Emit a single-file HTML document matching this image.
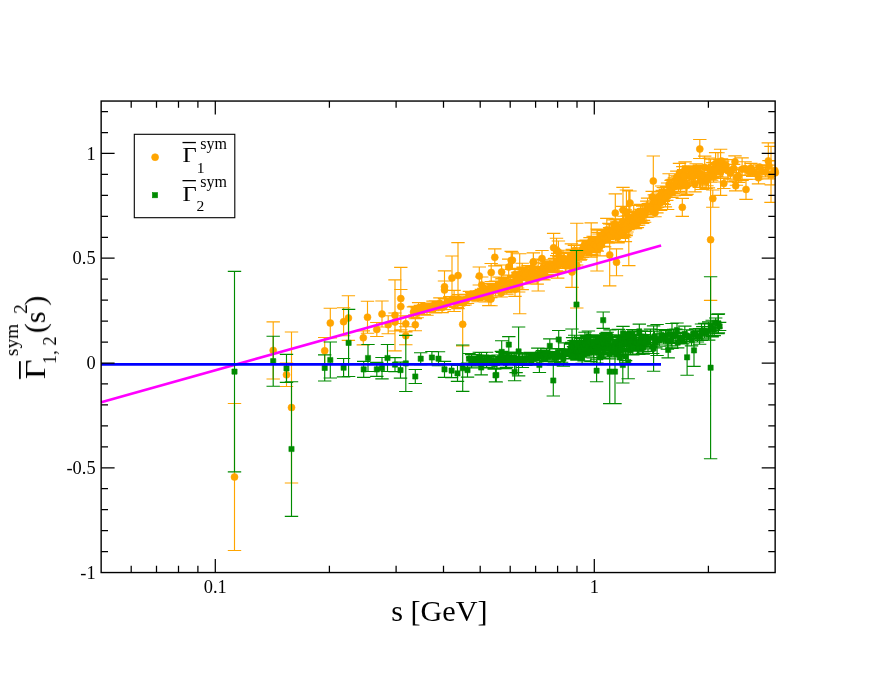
<!DOCTYPE html>
<html><head><meta charset="utf-8"><title>plot</title>
<style>
html,body{margin:0;padding:0;background:#fff;}
body{width:872px;height:674px;overflow:hidden;}
svg{display:block;}
text{font-family:"Liberation Serif",serif;fill:#000;}
#txt{opacity:0.999;}
</style></head><body>
<svg width="872" height="674" viewBox="0 0 872 674">
<rect width="872" height="674" fill="#fff"/>
<defs><clipPath id="cp"><rect x="101.15" y="101.05" width="674" height="471.5"/></clipPath></defs>
<!-- series 1 (orange) -->
<g stroke="#ffa500" fill="none" stroke-width="1.15" clip-path="url(#cp)"><path d="M234.5 403.5V550.5M227.8 403.5h13.4M227.8 550.5h13.4M273.2 321.8V379M266.5 321.8h13.4M266.5 379h13.4M286.5 363.1V386.5M279.8 363.1h13.4M279.8 386.5h13.4M291.5 332V483M284.8 332h13.4M284.8 483h13.4M324.7 337.5V364.1M318 337.5h13.4M318 364.1h13.4M330.3 308.2V337.8M323.6 308.2h13.4M323.6 337.8h13.4M343.6 307.7V335.7M336.9 307.7h13.4M336.9 335.7h13.4M348.4 295.7V340.3M341.7 295.7h13.4M341.7 340.3h13.4M363.3 330.8V344.8M356.6 330.8h13.4M356.6 344.8h13.4M367.5 301.2V333.2M360.8 301.2h13.4M360.8 333.2h13.4M376.8 322.5V336.5M370.1 322.5h13.4M370.1 336.5h13.4M382 301V327M375.3 301h13.4M375.3 327h13.4M388.2 315.7V333.7M381.5 315.7h13.4M381.5 333.7h13.4M395 279.8V350.8M388.3 279.8h13.4M388.3 350.8h13.4M395 313V331M388.3 313h13.4M388.3 331h13.4M400.8 267.3V329.9M394.1 267.3h13.4M394.1 329.9h13.4M400.8 289.5V323.5M394.1 289.5h13.4M394.1 323.5h13.4M405.8 315.8V331.8M399.1 315.8h13.4M399.1 331.8h13.4M405.8 326.7V344.7M399.1 326.7h13.4M399.1 344.7h13.4M415.3 318.7V330.7M408.6 318.7h13.4M408.6 330.7h13.4M444.5 270.8V302.8M437.8 270.8h13.4M437.8 302.8h13.4M444.5 281V299M437.8 281h13.4M437.8 299h13.4M452 256V300M445.3 256h13.4M445.3 300h13.4M458 242.6V308.6M451.3 242.6h13.4M451.3 308.6h13.4M462.7 302.8V345.8M456 302.8h13.4M456 345.8h13.4M479.3 267V285M472.6 267h13.4M472.6 285h13.4M481.7 277V293M475 277h13.4M475 293h13.4M488.8 291.6V305.6M482.1 291.6h13.4M482.1 305.6h13.4M491.2 263.5V281.5M484.5 263.5h13.4M484.5 281.5h13.4M494.8 248.8V265.8M488.1 248.8h13.4M488.1 265.8h13.4M519.7 253.7V313.7M513 253.7h13.4M513 313.7h13.4M576.8 223.2V308M570.1 223.2h13.4M570.1 308h13.4M597 229V271M590.3 229h13.4M590.3 271h13.4M609.7 223.9V285.9M603 223.9h13.4M603 285.9h13.4M616.5 248.9V275.7M609.8 248.9h13.4M609.8 275.7h13.4M630 191V215M623.3 191h13.4M623.3 215h13.4M501.6 265V279M494.9 265h13.4M494.9 279h13.4M508.7 259.1V275.1M502 259.1h13.4M502 275.1h13.4M511.2 251.4V269.4M504.5 251.4h13.4M504.5 269.4h13.4M491 292.3V305.7M484.3 292.3h13.4M484.3 305.7h13.4M515 282.3V296.3M508.3 282.3h13.4M508.3 296.3h13.4M533.4 252.7V271.9M526.7 252.7h13.4M526.7 271.9h13.4M542 250.5V266.5M535.3 250.5h13.4M535.3 266.5h13.4M553.6 233.4V262.2M546.9 233.4h13.4M546.9 262.2h13.4M556.5 238.2V261.8M549.8 238.2h13.4M549.8 261.8h13.4M558.4 241V263M551.7 241h13.4M551.7 263h13.4M538.2 259V291M531.5 259h13.4M531.5 291h13.4M572 256.6V287.4M565.3 256.6h13.4M565.3 287.4h13.4M591.2 222.8V257.2M584.5 222.8h13.4M584.5 257.2h13.4M615.3 193.9V232.3M608.6 193.9h13.4M608.6 232.3h13.4M623 187.4V232.6M616.3 187.4h13.4M616.3 232.6h13.4M626.4 190V234M619.7 190h13.4M619.7 234h13.4M628.8 191V265.6M622.1 191h13.4M622.1 265.6h13.4M655 208.7V216.7M648.3 208.7h13.4M648.3 216.7h13.4M533.3 253V271M526.6 253h13.4M526.6 271h13.4M512.4 252.2V268.2M505.7 252.2h13.4M505.7 268.2h13.4M653.3 156V206M646.6 156h13.4M646.6 206h13.4M682.3 198.3V216.3M675.6 198.3h13.4M675.6 216.3h13.4M699.8 139.5V158.5M693.1 139.5h13.4M693.1 158.5h13.4M710.6 179V300.4M703.9 179h13.4M703.9 300.4h13.4M712.8 190V207.2M706.1 190h13.4M706.1 207.2h13.4M723.8 178.5V188.5M717.1 178.5h13.4M717.1 188.5h13.4M735.7 180.8V190.8M729 180.8h13.4M729 190.8h13.4M746 179.4V199.4M739.3 179.4h13.4M739.3 199.4h13.4M735 155.8V167.8M728.3 155.8h13.4M728.3 167.8h13.4M768.3 142.9V178.9M761.6 142.9h13.4M761.6 178.9h13.4M771 146.3V202.3M764.3 146.3h13.4M764.3 202.3h13.4M775.3 160.8V184.8M768.6 160.8h13.4M768.6 184.8h13.4M758.5 171.8V183.8M751.8 171.8h13.4M751.8 183.8h13.4M413.5 306.8V317.1M406.8 306.8h13.4M406.8 317.1h13.4M414.9 306.2V314.7M408.2 306.2h13.4M408.2 314.7h13.4M417.2 308.1V317.7M410.5 308.1h13.4M410.5 317.7h13.4M418.6 302.6V313.7M411.9 302.6h13.4M411.9 313.7h13.4M420.4 305.2V310M413.7 305.2h13.4M413.7 310h13.4M422.4 305.7V314.6M415.7 305.7h13.4M415.7 314.6h13.4M424.2 304.6V314.6M417.5 304.6h13.4M417.5 314.6h13.4M427 303.3V315.2M420.3 303.3h13.4M420.3 315.2h13.4M428.9 303.1V311.8M422.2 303.1h13.4M422.2 311.8h13.4M430.6 303.6V310.3M423.9 303.6h13.4M423.9 310.3h13.4M433 301.1V310.7M426.3 301.1h13.4M426.3 310.7h13.4M435.5 300.7V312.8M428.8 300.7h13.4M428.8 312.8h13.4M438.4 302.4V309.4M431.7 302.4h13.4M431.7 309.4h13.4M439.9 297.9V308.9M433.2 297.9h13.4M433.2 308.9h13.4M442.1 302.7V312.6M435.4 302.7h13.4M435.4 312.6h13.4M444.4 302.1V309.6M437.7 302.1h13.4M437.7 309.6h13.4M446.8 299V306.7M440.1 299h13.4M440.1 306.7h13.4M449.8 296.6V306.2M443.1 296.6h13.4M443.1 306.2h13.4M452.3 298V302.4M445.6 298h13.4M445.6 302.4h13.4M454.1 290.3V311.5M447.4 290.3h13.4M447.4 311.5h13.4M455.8 297.9V307.4M449.1 297.9h13.4M449.1 307.4h13.4M457.3 296.1V307.5M450.6 296.1h13.4M450.6 307.5h13.4M458.8 294.5V304.4M452.1 294.5h13.4M452.1 304.4h13.4M461.5 297.6V305.2M454.8 297.6h13.4M454.8 305.2h13.4M463.5 300.5V305.5M456.8 300.5h13.4M456.8 305.5h13.4M465.1 294.3V305M458.4 294.3h13.4M458.4 305h13.4M467.5 294.2V303.5M460.8 294.2h13.4M460.8 303.5h13.4M469.4 291.4V298M462.7 291.4h13.4M462.7 298h13.4M471.7 292.6V299.2M465 292.6h13.4M465 299.2h13.4M474.6 295.2V299.6M467.9 295.2h13.4M467.9 299.6h13.4M476.6 290.8V300.5M469.9 290.8h13.4M469.9 300.5h13.4M478 292V301.7M471.3 292h13.4M471.3 301.7h13.4M479.9 290.5V299.5M473.2 290.5h13.4M473.2 299.5h13.4M481.4 289.3V298.7M474.7 289.3h13.4M474.7 298.7h13.4M483.8 288.3V299.9M477.1 288.3h13.4M477.1 299.9h13.4M485.2 288.5V302M478.5 288.5h13.4M478.5 302h13.4M486.8 285.9V296M480.1 285.9h13.4M480.1 296h13.4M488.2 283.4V298.2M481.5 283.4h13.4M481.5 298.2h13.4M489.2 288.5V297.5M482.5 288.5h13.4M482.5 297.5h13.4M490.8 287.1V297.6M484.1 287.1h13.4M484.1 297.6h13.4M492.9 284.4V292.5M486.2 284.4h13.4M486.2 292.5h13.4M494.1 285.3V292.2M487.4 285.3h13.4M487.4 292.2h13.4M495.5 281.1V295.7M488.8 281.1h13.4M488.8 295.7h13.4M497.5 285.4V290.9M490.8 285.4h13.4M490.8 290.9h13.4M498.8 277V291.8M492.1 277h13.4M492.1 291.8h13.4M500.1 277.2V293.7M493.4 277.2h13.4M493.4 293.7h13.4M501.2 289.1V297M494.5 289.1h13.4M494.5 297h13.4M502.3 278.5V292.3M495.6 278.5h13.4M495.6 292.3h13.4M503.2 277.1V283.9M496.5 277.1h13.4M496.5 283.9h13.4M504.4 278.1V285M497.7 278.1h13.4M497.7 285h13.4M505.8 283.8V292.4M499.1 283.8h13.4M499.1 292.4h13.4M506.9 277.5V294.1M500.2 277.5h13.4M500.2 294.1h13.4M508.4 280.5V291.5M501.7 280.5h13.4M501.7 291.5h13.4M510.1 277.6V287.3M503.4 277.6h13.4M503.4 287.3h13.4M510.9 282.5V290.8M504.2 282.5h13.4M504.2 290.8h13.4M512.4 280.5V291.5M505.7 280.5h13.4M505.7 291.5h13.4M513.7 275.8V287.8M507 275.8h13.4M507 287.8h13.4M515 269.3V279.7M508.3 269.3h13.4M508.3 279.7h13.4M516.6 276.4V286M509.9 276.4h13.4M509.9 286h13.4M517.6 272.2V288M510.9 272.2h13.4M510.9 288h13.4M518.7 275.3V292M512 275.3h13.4M512 292h13.4M519.9 269.7V277.8M513.2 269.7h13.4M513.2 277.8h13.4M521.5 269.1V280.7M514.8 269.1h13.4M514.8 280.7h13.4M522.2 263.2V289.6M515.5 263.2h13.4M515.5 289.6h13.4M523.1 267.1V279.5M516.4 267.1h13.4M516.4 279.5h13.4M524.1 268.2V279.3M517.4 268.2h13.4M517.4 279.3h13.4M524.9 269.7V280.4M518.2 269.7h13.4M518.2 280.4h13.4M526.4 267.1V278.5M519.7 267.1h13.4M519.7 278.5h13.4M528 265.6V278.7M521.3 265.6h13.4M521.3 278.7h13.4M529.2 270.1V278.4M522.5 270.1h13.4M522.5 278.4h13.4M530.4 274V283.8M523.7 274h13.4M523.7 283.8h13.4M532 266.1V281.8M525.3 266.1h13.4M525.3 281.8h13.4M533.5 268.1V280.9M526.8 268.1h13.4M526.8 280.9h13.4M534.3 266.9V279.7M527.6 266.9h13.4M527.6 279.7h13.4M535.8 268.7V279.2M529.1 268.7h13.4M529.1 279.2h13.4M537.2 267.3V284.1M530.5 267.3h13.4M530.5 284.1h13.4M538.1 269.1V279.7M531.4 269.1h13.4M531.4 279.7h13.4M539.8 266.9V276.8M533.1 266.9h13.4M533.1 276.8h13.4M541 262.9V276.2M534.3 262.9h13.4M534.3 276.2h13.4M542.4 267.4V279.5M535.7 267.4h13.4M535.7 279.5h13.4M543.1 260V275.5M536.4 260h13.4M536.4 275.5h13.4M543.9 268.7V279.8M537.2 268.7h13.4M537.2 279.8h13.4M544.7 262.7V275.2M538 262.7h13.4M538 275.2h13.4M545.7 263.6V277.7M539 263.6h13.4M539 277.7h13.4M547.2 261.2V274.6M540.5 261.2h13.4M540.5 274.6h13.4M548.5 262V272.2M541.8 262h13.4M541.8 272.2h13.4M549.9 259.8V272M543.2 259.8h13.4M543.2 272h13.4M551.2 261.5V271.9M544.5 261.5h13.4M544.5 271.9h13.4M552 263.6V272.5M545.3 263.6h13.4M545.3 272.5h13.4M553.2 262.2V272.7M546.5 262.2h13.4M546.5 272.7h13.4M554.5 258.5V271.6M547.8 258.5h13.4M547.8 271.6h13.4M555.2 258.3V272.5M548.5 258.3h13.4M548.5 272.5h13.4M556.7 255.6V270.9M550 255.6h13.4M550 270.9h13.4M557.7 253.3V278.1M551 253.3h13.4M551 278.1h13.4M559 256.8V271.8M552.3 256.8h13.4M552.3 271.8h13.4M559.8 259.7V268.3M553.1 259.7h13.4M553.1 268.3h13.4M561.3 252.5V266.5M554.6 252.5h13.4M554.6 266.5h13.4M563 250.2V266.8M556.3 250.2h13.4M556.3 266.8h13.4M564.3 252.1V265.4M557.6 252.1h13.4M557.6 265.4h13.4M565.2 257.7V271.6M558.5 257.7h13.4M558.5 271.6h13.4M566 257.4V272.1M559.3 257.4h13.4M559.3 272.1h13.4M567.4 252.2V266.1M560.7 252.2h13.4M560.7 266.1h13.4M568.6 253.5V268M561.9 253.5h13.4M561.9 268h13.4M570.2 257V267.3M563.5 257h13.4M563.5 267.3h13.4M571.4 243.9V268.8M564.7 243.9h13.4M564.7 268.8h13.4M572.3 249.3V260.3M565.6 249.3h13.4M565.6 260.3h13.4M572.9 250.3V262.7M566.2 250.3h13.4M566.2 262.7h13.4M573.4 253.3V264.7M566.7 253.3h13.4M566.7 264.7h13.4M574.4 245.4V255.5M567.7 245.4h13.4M567.7 255.5h13.4M575.4 253V261.8M568.7 253h13.4M568.7 261.8h13.4M576.7 249.8V265M570 249.8h13.4M570 265h13.4M577.3 254.9V260.1M570.6 254.9h13.4M570.6 260.1h13.4M578.3 249.4V258.7M571.6 249.4h13.4M571.6 258.7h13.4M579.2 252.8V258.8M572.5 252.8h13.4M572.5 258.8h13.4M580.2 252.1V260.1M573.5 252.1h13.4M573.5 260.1h13.4M580.9 247.9V259.2M574.2 247.9h13.4M574.2 259.2h13.4M581.5 249.9V257.3M574.8 249.9h13.4M574.8 257.3h13.4M582.5 241.2V257.5M575.8 241.2h13.4M575.8 257.5h13.4M583.6 240.9V251.8M576.9 240.9h13.4M576.9 251.8h13.4M584.2 245.4V254M577.5 245.4h13.4M577.5 254h13.4M584.9 244.8V253.6M578.2 244.8h13.4M578.2 253.6h13.4M586.1 240.1V251.2M579.4 240.1h13.4M579.4 251.2h13.4M587.2 245.3V251.9M580.5 245.3h13.4M580.5 251.9h13.4M587.8 242.8V255.8M581.1 242.8h13.4M581.1 255.8h13.4M588.5 241.5V252.3M581.8 241.5h13.4M581.8 252.3h13.4M589.3 241.3V248M582.6 241.3h13.4M582.6 248h13.4M590 237.6V248.2M583.3 237.6h13.4M583.3 248.2h13.4M590.6 243V252.6M583.9 243h13.4M583.9 252.6h13.4M591.9 243.2V254.6M585.2 243.2h13.4M585.2 254.6h13.4M593.1 236.2V247.9M586.4 236.2h13.4M586.4 247.9h13.4M594.3 237V252.1M587.6 237h13.4M587.6 252.1h13.4M595.2 239.2V249.7M588.5 239.2h13.4M588.5 249.7h13.4M596.1 242.1V249.8M589.4 242.1h13.4M589.4 249.8h13.4M597.3 230.1V251.1M590.6 230.1h13.4M590.6 251.1h13.4M598.2 232.4V247.5M591.5 232.4h13.4M591.5 247.5h13.4M598.9 234V246.8M592.2 234h13.4M592.2 246.8h13.4M600 236.7V255.9M593.3 236.7h13.4M593.3 255.9h13.4M601.1 229.7V246.5M594.4 229.7h13.4M594.4 246.5h13.4M602.3 229.7V240.7M595.6 229.7h13.4M595.6 240.7h13.4M603 233V246.6M596.3 233h13.4M596.3 246.6h13.4M603.7 234.5V246.4M597 234.5h13.4M597 246.4h13.4M604.6 230.3V246.9M597.9 230.3h13.4M597.9 246.9h13.4M605.7 234.9V242.6M599 234.9h13.4M599 242.6h13.4M606.8 218.4V241.5M600.1 218.4h13.4M600.1 241.5h13.4M607.6 232V239.3M600.9 232h13.4M600.9 239.3h13.4M608.2 231.1V243.2M601.5 231.1h13.4M601.5 243.2h13.4M608.9 223.3V242.6M602.2 223.3h13.4M602.2 242.6h13.4M609.6 227.5V237.7M602.9 227.5h13.4M602.9 237.7h13.4M610.4 227.7V242.8M603.7 227.7h13.4M603.7 242.8h13.4M611.5 224.2V237.2M604.8 224.2h13.4M604.8 237.2h13.4M612.7 223.9V237.6M606 223.9h13.4M606 237.6h13.4M613.3 224.4V238.8M606.6 224.4h13.4M606.6 238.8h13.4M614 219.8V229.3M607.3 219.8h13.4M607.3 229.3h13.4M614.8 219.7V235.2M608.1 219.7h13.4M608.1 235.2h13.4M615.5 227V241.2M608.8 227h13.4M608.8 241.2h13.4M616.1 218.7V231.6M609.4 218.7h13.4M609.4 231.6h13.4M616.8 221.9V237.9M610.1 221.9h13.4M610.1 237.9h13.4M617.6 231.9V242.6M610.9 231.9h13.4M610.9 242.6h13.4M618.1 228.5V242.8M611.4 228.5h13.4M611.4 242.8h13.4M618.9 222.4V235.3M612.2 222.4h13.4M612.2 235.3h13.4M620.1 228.8V234.8M613.4 228.8h13.4M613.4 234.8h13.4M620.7 222.3V236.8M614 222.3h13.4M614 236.8h13.4M621.7 227.7V238.4M615 227.7h13.4M615 238.4h13.4M622.7 206.3V236.8M616 206.3h13.4M616 236.8h13.4M623.4 226V236.2M616.7 226h13.4M616.7 236.2h13.4M624 216.2V234.9M617.3 216.2h13.4M617.3 234.9h13.4M624.6 222.1V237.2M617.9 222.1h13.4M617.9 237.2h13.4M625.4 209.7V241.6M618.7 209.7h13.4M618.7 241.6h13.4M626.2 224V235.6M619.5 224h13.4M619.5 235.6h13.4M627 216V232M620.3 216h13.4M620.3 232h13.4M628 215.9V229.6M621.3 215.9h13.4M621.3 229.6h13.4M629 212.5V227M622.3 212.5h13.4M622.3 227h13.4M630.1 214.8V228.8M623.4 214.8h13.4M623.4 228.8h13.4M630.9 214.8V225.4M624.2 214.8h13.4M624.2 225.4h13.4M631.9 211.3V224.2M625.2 211.3h13.4M625.2 224.2h13.4M632.7 216.1V226.5M626 216.1h13.4M626 226.5h13.4M633.7 205.4V227.9M627 205.4h13.4M627 227.9h13.4M634.3 211.1V228.2M627.6 211.1h13.4M627.6 228.2h13.4M635.5 212.5V228.7M628.8 212.5h13.4M628.8 228.7h13.4M636.6 211.3V225.3M629.9 211.3h13.4M629.9 225.3h13.4M637.4 219.6V227.6M630.7 219.6h13.4M630.7 227.6h13.4M638.6 213.6V225.1M631.9 213.6h13.4M631.9 225.1h13.4M639.8 209.2V221.2M633.1 209.2h13.4M633.1 221.2h13.4M640.5 204.3V219.8M633.8 204.3h13.4M633.8 219.8h13.4M641 205.1V221.8M634.3 205.1h13.4M634.3 221.8h13.4M641.6 210.1V222.5M634.9 210.1h13.4M634.9 222.5h13.4M642.7 206.1V223.3M636 206.1h13.4M636 223.3h13.4M643.5 208.6V220.3M636.8 208.6h13.4M636.8 220.3h13.4M644.6 208.4V222.2M637.9 208.4h13.4M637.9 222.2h13.4M645.6 205.7V216.9M638.9 205.7h13.4M638.9 216.9h13.4M646.8 201.1V217.4M640.1 201.1h13.4M640.1 217.4h13.4M647.6 198.1V217.1M640.9 198.1h13.4M640.9 217.1h13.4M648.3 203.5V211.7M641.6 203.5h13.4M641.6 211.7h13.4M648.9 205.8V210.2M642.2 205.8h13.4M642.2 210.2h13.4M650.1 203.4V214.8M643.4 203.4h13.4M643.4 214.8h13.4M651.3 203.8V213.9M644.6 203.8h13.4M644.6 213.9h13.4M652.2 191.4V202.7M645.5 191.4h13.4M645.5 202.7h13.4M653.3 200.9V205.9M646.6 200.9h13.4M646.6 205.9h13.4M654.3 194.9V208.4M647.6 194.9h13.4M647.6 208.4h13.4M655.4 198V210M648.7 198h13.4M648.7 210h13.4M656.1 196.6V207.9M649.4 196.6h13.4M649.4 207.9h13.4M656.9 202.8V212.9M650.2 202.8h13.4M650.2 212.9h13.4M657.6 195.8V207.5M650.9 195.8h13.4M650.9 207.5h13.4M658.6 191.3V203.1M651.9 191.3h13.4M651.9 203.1h13.4M659.6 193V199.3M652.9 193h13.4M652.9 199.3h13.4M660.6 195.1V210.3M653.9 195.1h13.4M653.9 210.3h13.4M661.6 186V200.8M654.9 186h13.4M654.9 200.8h13.4M662.3 190.4V203.2M655.6 190.4h13.4M655.6 203.2h13.4M663.3 187.5V201.4M656.6 187.5h13.4M656.6 201.4h13.4M664.2 187.7V204.4M657.5 187.7h13.4M657.5 204.4h13.4M665.4 189.4V206.8M658.7 189.4h13.4M658.7 206.8h13.4M666.8 187.1V200.4M660.1 187.1h13.4M660.1 200.4h13.4M667.6 183V209.5M660.9 183h13.4M660.9 209.5h13.4M669.1 173.7V194.9M662.4 173.7h13.4M662.4 194.9h13.4M670 189.2V193.6M663.3 189.2h13.4M663.3 193.6h13.4M671.1 180.3V191.9M664.4 180.3h13.4M664.4 191.9h13.4M671.9 179.7V197.4M665.2 179.7h13.4M665.2 197.4h13.4M673.2 179.2V194M666.5 179.2h13.4M666.5 194h13.4M674.4 177.8V195.7M667.7 177.8h13.4M667.7 195.7h13.4M675.8 175.7V189.2M669.1 175.7h13.4M669.1 189.2h13.4M676.8 171.1V182.9M670.1 171.1h13.4M670.1 182.9h13.4M677.6 176.2V185.3M670.9 176.2h13.4M670.9 185.3h13.4M678.5 178.7V191.4M671.8 178.7h13.4M671.8 191.4h13.4M679.5 163.4V182.4M672.8 163.4h13.4M672.8 182.4h13.4M680.5 171.2V192.9M673.8 171.2h13.4M673.8 192.9h13.4M681.1 177.6V188.6M674.4 177.6h13.4M674.4 188.6h13.4M682.2 177.3V187.5M675.5 177.3h13.4M675.5 187.5h13.4M682.8 166.6V178.3M676.1 166.6h13.4M676.1 178.3h13.4M683.6 169.6V180.3M676.9 169.6h13.4M676.9 180.3h13.4M684.4 166.5V186.4M677.7 166.5h13.4M677.7 186.4h13.4M685.1 161.9V176.5M678.4 161.9h13.4M678.4 176.5h13.4M685.9 172.7V195.3M679.2 172.7h13.4M679.2 195.3h13.4M687 176.7V194.4M680.3 176.7h13.4M680.3 194.4h13.4M688.5 165.7V173.3M681.8 165.7h13.4M681.8 173.3h13.4M689.8 166.8V185.8M683.1 166.8h13.4M683.1 185.8h13.4M691.2 168.2V185.4M684.5 168.2h13.4M684.5 185.4h13.4M692.3 166V181.7M685.6 166h13.4M685.6 181.7h13.4M693.6 170V183.1M686.9 170h13.4M686.9 183.1h13.4M695 175.5V191.8M688.3 175.5h13.4M688.3 191.8h13.4M696.2 163.7V175.5M689.5 163.7h13.4M689.5 175.5h13.4M697.2 165.8V177.2M690.5 165.8h13.4M690.5 177.2h13.4M698.2 167.4V181.8M691.5 167.4h13.4M691.5 181.8h13.4M699.3 165V187.4M692.6 165h13.4M692.6 187.4h13.4M700.4 168.1V187.2M693.7 168.1h13.4M693.7 187.2h13.4M701.2 166.3V181.2M694.5 166.3h13.4M694.5 181.2h13.4M702.3 173.7V189.5M695.6 173.7h13.4M695.6 189.5h13.4M703.6 172.4V180.5M696.9 172.4h13.4M696.9 180.5h13.4M704.7 156.1V178.6M698 156.1h13.4M698 178.6h13.4M706.1 174.6V188.4M699.4 174.6h13.4M699.4 188.4h13.4M706.9 172.3V185.7M700.2 172.3h13.4M700.2 185.7h13.4M708.4 166.3V187.9M701.7 166.3h13.4M701.7 187.9h13.4M709.1 158V178.8M702.4 158h13.4M702.4 178.8h13.4M710.6 159.2V182.2M703.9 159.2h13.4M703.9 182.2h13.4M711.7 167.8V180.2M705 167.8h13.4M705 180.2h13.4M712.8 162.6V177.9M706.1 162.6h13.4M706.1 177.9h13.4M713.6 170.9V182M706.9 170.9h13.4M706.9 182h13.4M714.4 164.6V176.2M707.7 164.6h13.4M707.7 176.2h13.4M715.6 152.6V174.5M708.9 152.6h13.4M708.9 174.5h13.4M716.8 163.9V176.4M710.1 163.9h13.4M710.1 176.4h13.4M718 152.7V172.2M711.3 152.7h13.4M711.3 172.2h13.4M719.5 159.3V171.1M712.8 159.3h13.4M712.8 171.1h13.4M720.6 149.2V195.3M713.9 149.2h13.4M713.9 195.3h13.4M721.5 158.8V163.2M714.8 158.8h13.4M714.8 163.2h13.4M722.7 161.2V177.1M716 161.2h13.4M716 177.1h13.4M725.9 159.6V171M719.2 159.6h13.4M719.2 171h13.4M727.9 159.7V181.9M721.2 159.7h13.4M721.2 181.9h13.4M730.5 167.4V179.1M723.8 167.4h13.4M723.8 179.1h13.4M733.6 164.3V172.6M726.9 164.3h13.4M726.9 172.6h13.4M736.4 169.3V185.2M729.7 169.3h13.4M729.7 185.2h13.4M738.5 169.8V182.3M731.8 169.8h13.4M731.8 182.3h13.4M742.1 157.9V180.5M735.4 157.9h13.4M735.4 180.5h13.4M745.1 161.7V175.5M738.4 161.7h13.4M738.4 175.5h13.4M749 168.1V175M742.3 168.1h13.4M742.3 175h13.4M750.9 163.4V172.3M744.2 163.4h13.4M744.2 172.3h13.4M752.7 167.4V176.5M746 167.4h13.4M746 176.5h13.4M756.6 167.7V179.2M749.9 167.7h13.4M749.9 179.2h13.4M759.6 164.9V169.3M752.9 164.9h13.4M752.9 169.3h13.4M762 166.1V176.8M755.3 166.1h13.4M755.3 176.8h13.4M765.6 167.5V176.7M758.9 167.5h13.4M758.9 176.7h13.4M769 160.6V171.5M762.3 160.6h13.4M762.3 171.5h13.4M771.3 165.1V184.9M764.6 165.1h13.4M764.6 184.9h13.4M774.8 168.2V172.6M768.1 168.2h13.4M768.1 172.6h13.4"/></g>
<g fill="#ffa500" stroke="#ffa500" stroke-width="0.6"><circle cx="234.5" cy="477" r="3.5"/><circle cx="273.2" cy="350.4" r="3.5"/><circle cx="286.5" cy="374.8" r="3.5"/><circle cx="291.5" cy="407.5" r="3.5"/><circle cx="324.7" cy="350.8" r="3.5"/><circle cx="330.3" cy="323" r="3.5"/><circle cx="343.6" cy="321.7" r="3.5"/><circle cx="348.4" cy="318" r="3.5"/><circle cx="363.3" cy="337.8" r="3.5"/><circle cx="367.5" cy="317.2" r="3.5"/><circle cx="376.8" cy="329.5" r="3.5"/><circle cx="382" cy="314" r="3.5"/><circle cx="388.2" cy="324.7" r="3.5"/><circle cx="395" cy="315.3" r="3.5"/><circle cx="395" cy="322" r="3.5"/><circle cx="400.8" cy="298.6" r="3.5"/><circle cx="400.8" cy="306.5" r="3.5"/><circle cx="405.8" cy="323.8" r="3.5"/><circle cx="405.8" cy="335.7" r="3.5"/><circle cx="415.3" cy="324.7" r="3.5"/><circle cx="444.5" cy="286.8" r="3.5"/><circle cx="444.5" cy="290" r="3.5"/><circle cx="452" cy="278" r="3.5"/><circle cx="458" cy="275.6" r="3.5"/><circle cx="462.7" cy="324.3" r="3.5"/><circle cx="479.3" cy="276" r="3.5"/><circle cx="481.7" cy="285" r="3.5"/><circle cx="488.8" cy="298.6" r="3.5"/><circle cx="491.2" cy="272.5" r="3.5"/><circle cx="494.8" cy="257.3" r="3.5"/><circle cx="519.7" cy="283.7" r="3.5"/><circle cx="576.8" cy="265.6" r="3.5"/><circle cx="597" cy="250" r="3.5"/><circle cx="609.7" cy="254.9" r="3.5"/><circle cx="616.5" cy="262.3" r="3.5"/><circle cx="630" cy="203" r="3.5"/><circle cx="501.6" cy="272" r="3.5"/><circle cx="508.7" cy="267.1" r="3.5"/><circle cx="511.2" cy="260.4" r="3.5"/><circle cx="491" cy="299" r="3.5"/><circle cx="515" cy="289.3" r="3.5"/><circle cx="533.4" cy="262.3" r="3.5"/><circle cx="542" cy="258.5" r="3.5"/><circle cx="553.6" cy="247.8" r="3.5"/><circle cx="556.5" cy="250" r="3.5"/><circle cx="558.4" cy="252" r="3.5"/><circle cx="538.2" cy="275" r="3.5"/><circle cx="572" cy="272" r="3.5"/><circle cx="591.2" cy="240" r="3.5"/><circle cx="615.3" cy="213.1" r="3.5"/><circle cx="623" cy="210" r="3.5"/><circle cx="626.4" cy="212" r="3.5"/><circle cx="628.8" cy="228.3" r="3.5"/><circle cx="655" cy="212.7" r="3.5"/><circle cx="533.3" cy="262" r="3.5"/><circle cx="512.4" cy="260.2" r="3.5"/><circle cx="653.3" cy="181" r="3.5"/><circle cx="682.3" cy="207.3" r="3.5"/><circle cx="699.8" cy="149" r="3.5"/><circle cx="710.6" cy="239.7" r="3.5"/><circle cx="712.8" cy="198.6" r="3.5"/><circle cx="723.8" cy="183.5" r="3.5"/><circle cx="735.7" cy="185.8" r="3.5"/><circle cx="746" cy="189.4" r="3.5"/><circle cx="735" cy="161.8" r="3.5"/><circle cx="768.3" cy="160.9" r="3.5"/><circle cx="771" cy="174.3" r="3.5"/><circle cx="775.3" cy="172.8" r="3.5"/><circle cx="758.5" cy="177.8" r="3.5"/><circle cx="413.5" cy="312" r="3.5"/><circle cx="414.9" cy="310.4" r="3.5"/><circle cx="417.2" cy="312.9" r="3.5"/><circle cx="418.6" cy="308.1" r="3.5"/><circle cx="420.4" cy="307.6" r="3.5"/><circle cx="422.4" cy="310.2" r="3.5"/><circle cx="424.2" cy="309.6" r="3.5"/><circle cx="427" cy="309.3" r="3.5"/><circle cx="428.9" cy="307.4" r="3.5"/><circle cx="430.6" cy="306.9" r="3.5"/><circle cx="433" cy="305.9" r="3.5"/><circle cx="435.5" cy="306.7" r="3.5"/><circle cx="438.4" cy="305.9" r="3.5"/><circle cx="439.9" cy="303.4" r="3.5"/><circle cx="442.1" cy="307.6" r="3.5"/><circle cx="444.4" cy="305.8" r="3.5"/><circle cx="446.8" cy="302.8" r="3.5"/><circle cx="449.8" cy="301.4" r="3.5"/><circle cx="452.3" cy="300.2" r="3.5"/><circle cx="454.1" cy="300.9" r="3.5"/><circle cx="455.8" cy="302.6" r="3.5"/><circle cx="457.3" cy="301.8" r="3.5"/><circle cx="458.8" cy="299.4" r="3.5"/><circle cx="461.5" cy="301.4" r="3.5"/><circle cx="463.5" cy="303" r="3.5"/><circle cx="465.1" cy="299.7" r="3.5"/><circle cx="467.5" cy="298.8" r="3.5"/><circle cx="469.4" cy="294.7" r="3.5"/><circle cx="471.7" cy="295.9" r="3.5"/><circle cx="474.6" cy="297.4" r="3.5"/><circle cx="476.6" cy="295.6" r="3.5"/><circle cx="478" cy="296.8" r="3.5"/><circle cx="479.9" cy="295" r="3.5"/><circle cx="481.4" cy="294" r="3.5"/><circle cx="483.8" cy="294.1" r="3.5"/><circle cx="485.2" cy="295.3" r="3.5"/><circle cx="486.8" cy="290.9" r="3.5"/><circle cx="488.2" cy="290.8" r="3.5"/><circle cx="489.2" cy="293" r="3.5"/><circle cx="490.8" cy="292.3" r="3.5"/><circle cx="492.9" cy="288.4" r="3.5"/><circle cx="494.1" cy="288.8" r="3.5"/><circle cx="495.5" cy="288.4" r="3.5"/><circle cx="497.5" cy="288.1" r="3.5"/><circle cx="498.8" cy="284.4" r="3.5"/><circle cx="500.1" cy="285.4" r="3.5"/><circle cx="501.2" cy="293" r="3.5"/><circle cx="502.3" cy="285.4" r="3.5"/><circle cx="503.2" cy="280.5" r="3.5"/><circle cx="504.4" cy="281.5" r="3.5"/><circle cx="505.8" cy="288.1" r="3.5"/><circle cx="506.9" cy="285.8" r="3.5"/><circle cx="508.4" cy="286" r="3.5"/><circle cx="510.1" cy="282.5" r="3.5"/><circle cx="510.9" cy="286.7" r="3.5"/><circle cx="512.4" cy="286" r="3.5"/><circle cx="513.7" cy="281.8" r="3.5"/><circle cx="515" cy="274.5" r="3.5"/><circle cx="516.6" cy="281.2" r="3.5"/><circle cx="517.6" cy="280.1" r="3.5"/><circle cx="518.7" cy="283.6" r="3.5"/><circle cx="519.9" cy="273.7" r="3.5"/><circle cx="521.5" cy="274.9" r="3.5"/><circle cx="522.2" cy="276.4" r="3.5"/><circle cx="523.1" cy="273.3" r="3.5"/><circle cx="524.1" cy="273.8" r="3.5"/><circle cx="524.9" cy="275" r="3.5"/><circle cx="526.4" cy="272.8" r="3.5"/><circle cx="528" cy="272.2" r="3.5"/><circle cx="529.2" cy="274.2" r="3.5"/><circle cx="530.4" cy="278.9" r="3.5"/><circle cx="532" cy="273.9" r="3.5"/><circle cx="533.5" cy="274.5" r="3.5"/><circle cx="534.3" cy="273.3" r="3.5"/><circle cx="535.8" cy="273.9" r="3.5"/><circle cx="537.2" cy="275.7" r="3.5"/><circle cx="538.1" cy="274.4" r="3.5"/><circle cx="539.8" cy="271.8" r="3.5"/><circle cx="541" cy="269.6" r="3.5"/><circle cx="542.4" cy="273.5" r="3.5"/><circle cx="543.1" cy="267.7" r="3.5"/><circle cx="543.9" cy="274.3" r="3.5"/><circle cx="544.7" cy="268.9" r="3.5"/><circle cx="545.7" cy="270.6" r="3.5"/><circle cx="547.2" cy="267.9" r="3.5"/><circle cx="548.5" cy="267.1" r="3.5"/><circle cx="549.9" cy="265.9" r="3.5"/><circle cx="551.2" cy="266.7" r="3.5"/><circle cx="552" cy="268" r="3.5"/><circle cx="553.2" cy="267.5" r="3.5"/><circle cx="554.5" cy="265.1" r="3.5"/><circle cx="555.2" cy="265.4" r="3.5"/><circle cx="556.7" cy="263.2" r="3.5"/><circle cx="557.7" cy="265.7" r="3.5"/><circle cx="559" cy="264.3" r="3.5"/><circle cx="559.8" cy="264" r="3.5"/><circle cx="561.3" cy="259.5" r="3.5"/><circle cx="563" cy="258.5" r="3.5"/><circle cx="564.3" cy="258.7" r="3.5"/><circle cx="565.2" cy="264.7" r="3.5"/><circle cx="566" cy="264.8" r="3.5"/><circle cx="567.4" cy="259.2" r="3.5"/><circle cx="568.6" cy="260.8" r="3.5"/><circle cx="570.2" cy="262.1" r="3.5"/><circle cx="571.4" cy="256.4" r="3.5"/><circle cx="572.3" cy="254.8" r="3.5"/><circle cx="572.9" cy="256.5" r="3.5"/><circle cx="573.4" cy="259" r="3.5"/><circle cx="574.4" cy="250.5" r="3.5"/><circle cx="575.4" cy="257.4" r="3.5"/><circle cx="576.7" cy="257.4" r="3.5"/><circle cx="577.3" cy="257.5" r="3.5"/><circle cx="578.3" cy="254" r="3.5"/><circle cx="579.2" cy="255.8" r="3.5"/><circle cx="580.2" cy="256.1" r="3.5"/><circle cx="580.9" cy="253.5" r="3.5"/><circle cx="581.5" cy="253.6" r="3.5"/><circle cx="582.5" cy="249.4" r="3.5"/><circle cx="583.6" cy="246.3" r="3.5"/><circle cx="584.2" cy="249.7" r="3.5"/><circle cx="584.9" cy="249.2" r="3.5"/><circle cx="586.1" cy="245.6" r="3.5"/><circle cx="587.2" cy="248.6" r="3.5"/><circle cx="587.8" cy="249.3" r="3.5"/><circle cx="588.5" cy="246.9" r="3.5"/><circle cx="589.3" cy="244.6" r="3.5"/><circle cx="590" cy="242.9" r="3.5"/><circle cx="590.6" cy="247.8" r="3.5"/><circle cx="591.9" cy="248.9" r="3.5"/><circle cx="593.1" cy="242.1" r="3.5"/><circle cx="594.3" cy="244.6" r="3.5"/><circle cx="595.2" cy="244.5" r="3.5"/><circle cx="596.1" cy="246" r="3.5"/><circle cx="597.3" cy="240.6" r="3.5"/><circle cx="598.2" cy="239.9" r="3.5"/><circle cx="598.9" cy="240.4" r="3.5"/><circle cx="600" cy="246.3" r="3.5"/><circle cx="601.1" cy="238.1" r="3.5"/><circle cx="602.3" cy="235.2" r="3.5"/><circle cx="603" cy="239.8" r="3.5"/><circle cx="603.7" cy="240.5" r="3.5"/><circle cx="604.6" cy="238.6" r="3.5"/><circle cx="605.7" cy="238.8" r="3.5"/><circle cx="606.8" cy="229.9" r="3.5"/><circle cx="607.6" cy="235.7" r="3.5"/><circle cx="608.2" cy="237.2" r="3.5"/><circle cx="608.9" cy="232.9" r="3.5"/><circle cx="609.6" cy="232.6" r="3.5"/><circle cx="610.4" cy="235.3" r="3.5"/><circle cx="611.5" cy="230.7" r="3.5"/><circle cx="612.7" cy="230.8" r="3.5"/><circle cx="613.3" cy="231.6" r="3.5"/><circle cx="614" cy="224.6" r="3.5"/><circle cx="614.8" cy="227.4" r="3.5"/><circle cx="615.5" cy="234.1" r="3.5"/><circle cx="616.1" cy="225.1" r="3.5"/><circle cx="616.8" cy="229.9" r="3.5"/><circle cx="617.6" cy="237.3" r="3.5"/><circle cx="618.1" cy="235.6" r="3.5"/><circle cx="618.9" cy="228.9" r="3.5"/><circle cx="620.1" cy="231.8" r="3.5"/><circle cx="620.7" cy="229.5" r="3.5"/><circle cx="621.7" cy="233.1" r="3.5"/><circle cx="622.7" cy="221.6" r="3.5"/><circle cx="623.4" cy="231.1" r="3.5"/><circle cx="624" cy="225.6" r="3.5"/><circle cx="624.6" cy="229.7" r="3.5"/><circle cx="625.4" cy="225.7" r="3.5"/><circle cx="626.2" cy="229.8" r="3.5"/><circle cx="627" cy="224" r="3.5"/><circle cx="628" cy="222.7" r="3.5"/><circle cx="629" cy="219.7" r="3.5"/><circle cx="630.1" cy="221.8" r="3.5"/><circle cx="630.9" cy="220.1" r="3.5"/><circle cx="631.9" cy="217.8" r="3.5"/><circle cx="632.7" cy="221.3" r="3.5"/><circle cx="633.7" cy="216.6" r="3.5"/><circle cx="634.3" cy="219.6" r="3.5"/><circle cx="635.5" cy="220.6" r="3.5"/><circle cx="636.6" cy="218.3" r="3.5"/><circle cx="637.4" cy="223.6" r="3.5"/><circle cx="638.6" cy="219.4" r="3.5"/><circle cx="639.8" cy="215.2" r="3.5"/><circle cx="640.5" cy="212.1" r="3.5"/><circle cx="641" cy="213.5" r="3.5"/><circle cx="641.6" cy="216.3" r="3.5"/><circle cx="642.7" cy="214.7" r="3.5"/><circle cx="643.5" cy="214.5" r="3.5"/><circle cx="644.6" cy="215.3" r="3.5"/><circle cx="645.6" cy="211.3" r="3.5"/><circle cx="646.8" cy="209.2" r="3.5"/><circle cx="647.6" cy="207.6" r="3.5"/><circle cx="648.3" cy="207.6" r="3.5"/><circle cx="648.9" cy="208" r="3.5"/><circle cx="650.1" cy="209.1" r="3.5"/><circle cx="651.3" cy="208.8" r="3.5"/><circle cx="652.2" cy="197.1" r="3.5"/><circle cx="653.3" cy="203.4" r="3.5"/><circle cx="654.3" cy="201.6" r="3.5"/><circle cx="655.4" cy="204" r="3.5"/><circle cx="656.1" cy="202.3" r="3.5"/><circle cx="656.9" cy="207.8" r="3.5"/><circle cx="657.6" cy="201.6" r="3.5"/><circle cx="658.6" cy="197.2" r="3.5"/><circle cx="659.6" cy="196.2" r="3.5"/><circle cx="660.6" cy="202.7" r="3.5"/><circle cx="661.6" cy="193.4" r="3.5"/><circle cx="662.3" cy="196.8" r="3.5"/><circle cx="663.3" cy="194.5" r="3.5"/><circle cx="664.2" cy="196" r="3.5"/><circle cx="665.4" cy="198.1" r="3.5"/><circle cx="666.8" cy="193.8" r="3.5"/><circle cx="667.6" cy="196.3" r="3.5"/><circle cx="669.1" cy="184.3" r="3.5"/><circle cx="670" cy="191.4" r="3.5"/><circle cx="671.1" cy="186.1" r="3.5"/><circle cx="671.9" cy="188.5" r="3.5"/><circle cx="673.2" cy="186.6" r="3.5"/><circle cx="674.4" cy="186.7" r="3.5"/><circle cx="675.8" cy="182.4" r="3.5"/><circle cx="676.8" cy="177" r="3.5"/><circle cx="677.6" cy="180.7" r="3.5"/><circle cx="678.5" cy="185" r="3.5"/><circle cx="679.5" cy="172.9" r="3.5"/><circle cx="680.5" cy="182" r="3.5"/><circle cx="681.1" cy="183.1" r="3.5"/><circle cx="682.2" cy="182.4" r="3.5"/><circle cx="682.8" cy="172.4" r="3.5"/><circle cx="683.6" cy="174.9" r="3.5"/><circle cx="684.4" cy="176.4" r="3.5"/><circle cx="685.1" cy="169.2" r="3.5"/><circle cx="685.9" cy="184" r="3.5"/><circle cx="687" cy="185.5" r="3.5"/><circle cx="688.5" cy="169.5" r="3.5"/><circle cx="689.8" cy="176.3" r="3.5"/><circle cx="691.2" cy="176.8" r="3.5"/><circle cx="692.3" cy="173.8" r="3.5"/><circle cx="693.6" cy="176.5" r="3.5"/><circle cx="695" cy="183.7" r="3.5"/><circle cx="696.2" cy="169.6" r="3.5"/><circle cx="697.2" cy="171.5" r="3.5"/><circle cx="698.2" cy="174.6" r="3.5"/><circle cx="699.3" cy="176.2" r="3.5"/><circle cx="700.4" cy="177.6" r="3.5"/><circle cx="701.2" cy="173.8" r="3.5"/><circle cx="702.3" cy="181.6" r="3.5"/><circle cx="703.6" cy="176.4" r="3.5"/><circle cx="704.7" cy="167.4" r="3.5"/><circle cx="706.1" cy="181.5" r="3.5"/><circle cx="706.9" cy="179" r="3.5"/><circle cx="708.4" cy="177.1" r="3.5"/><circle cx="709.1" cy="168.4" r="3.5"/><circle cx="710.6" cy="170.7" r="3.5"/><circle cx="711.7" cy="174" r="3.5"/><circle cx="712.8" cy="170.3" r="3.5"/><circle cx="713.6" cy="176.5" r="3.5"/><circle cx="714.4" cy="170.4" r="3.5"/><circle cx="715.6" cy="163.6" r="3.5"/><circle cx="716.8" cy="170.2" r="3.5"/><circle cx="718" cy="162.4" r="3.5"/><circle cx="719.5" cy="165.2" r="3.5"/><circle cx="720.6" cy="172.2" r="3.5"/><circle cx="721.5" cy="161" r="3.5"/><circle cx="722.7" cy="169.2" r="3.5"/><circle cx="725.9" cy="165.3" r="3.5"/><circle cx="727.9" cy="170.8" r="3.5"/><circle cx="730.5" cy="173.3" r="3.5"/><circle cx="733.6" cy="168.4" r="3.5"/><circle cx="736.4" cy="177.3" r="3.5"/><circle cx="738.5" cy="176" r="3.5"/><circle cx="742.1" cy="169.2" r="3.5"/><circle cx="745.1" cy="168.6" r="3.5"/><circle cx="749" cy="171.6" r="3.5"/><circle cx="750.9" cy="167.9" r="3.5"/><circle cx="752.7" cy="172" r="3.5"/><circle cx="756.6" cy="173.4" r="3.5"/><circle cx="759.6" cy="167.1" r="3.5"/><circle cx="762" cy="171.5" r="3.5"/><circle cx="765.6" cy="172.1" r="3.5"/><circle cx="769" cy="166.1" r="3.5"/><circle cx="771.3" cy="175" r="3.5"/><circle cx="774.8" cy="170.4" r="3.5"/></g>
<line x1="101.2" y1="402.2" x2="661.1" y2="245.6" stroke="#ff00ff" stroke-width="2.6"/>
<!-- series 2 (green) -->
<g stroke="#008b00" fill="none" stroke-width="1.15" clip-path="url(#cp)"><path d="M234.5 271.3V471.9M227.8 271.3h13.4M227.8 471.9h13.4M273.2 336.2V386.2M266.5 336.2h13.4M266.5 386.2h13.4M286.5 354.3V382.3M279.8 354.3h13.4M279.8 382.3h13.4M291.5 381.7V516.3M284.8 381.7h13.4M284.8 516.3h13.4M324.7 354.8V381M318 354.8h13.4M318 381h13.4M330.3 342V378M323.6 342h13.4M323.6 378h13.4M343.6 358.5V376.9M336.9 358.5h13.4M336.9 376.9h13.4M348.6 309.3V376.5M341.9 309.3h13.4M341.9 376.5h13.4M363.7 361.4V377.4M357 361.4h13.4M357 377.4h13.4M368 344.5V371.5M361.3 344.5h13.4M361.3 371.5h13.4M376.8 362.4V376.4M370.1 362.4h13.4M370.1 376.4h13.4M382 357.5V378.9M375.3 357.5h13.4M375.3 378.9h13.4M387.5 344.5V371.5M380.8 344.5h13.4M380.8 371.5h13.4M395 357.6V371.6M388.3 357.6h13.4M388.3 371.6h13.4M400.5 362.1V378.1M393.8 362.1h13.4M393.8 378.1h13.4M405.8 335.3V391.5M399.1 335.3h13.4M399.1 391.5h13.4M415.3 369.5V383.5M408.6 369.5h13.4M408.6 383.5h13.4M420.7 352.7V364.7M414 352.7h13.4M414 364.7h13.4M431.9 351.5V363.5M425.2 351.5h13.4M425.2 363.5h13.4M438.5 351.7V365.7M431.8 351.7h13.4M431.8 365.7h13.4M444.5 361.4V377.4M437.8 361.4h13.4M437.8 377.4h13.4M451.6 363.6V377.6M444.9 363.6h13.4M444.9 377.6h13.4M457.5 365.4V381.4M450.8 365.4h13.4M450.8 381.4h13.4M462.7 345V391.4M456 345h13.4M456 391.4h13.4M467.5 363.1V377.1M460.8 363.1h13.4M460.8 377.1h13.4M495.5 368.8V381.8M488.8 368.8h13.4M488.8 381.8h13.4M496.3 368V382M489.6 368h13.4M489.6 382h13.4M508.8 336.6V352.6M502.1 336.6h13.4M502.1 352.6h13.4M518.6 327V375.8M511.9 327h13.4M511.9 375.8h13.4M553.3 365V396M546.6 365h13.4M546.6 396h13.4M558.7 330.5V348.5M552 330.5h13.4M552 348.5h13.4M576.5 250.5V358.5M569.8 250.5h13.4M569.8 358.5h13.4M596.6 359.7V381.7M589.9 359.7h13.4M589.9 381.7h13.4M603.2 312V328.4M596.5 312h13.4M596.5 328.4h13.4M609.7 339.6V403.6M603 339.6h13.4M603 403.6h13.4M615 339.6V403.6M608.3 339.6h13.4M608.3 403.6h13.4M710.6 276.7V458.7M703.9 276.7h13.4M703.9 458.7h13.4M687.1 339.4V375.2M680.4 339.4h13.4M680.4 375.2h13.4M668.2 341.9V357.9M661.5 341.9h13.4M661.5 357.9h13.4M653.6 325.8V371.2M646.9 325.8h13.4M646.9 371.2h13.4M694 334.4V366.4M687.3 334.4h13.4M687.3 366.4h13.4M672 323.5V348.5M665.3 323.5h13.4M665.3 348.5h13.4M622.8 347V383M616.1 347h13.4M616.1 383h13.4M628.2 345.3V378.7M621.5 345.3h13.4M621.5 378.7h13.4M677 323V337M670.3 323h13.4M670.3 337h13.4M718 314.4V333.6M711.3 314.4h13.4M711.3 333.6h13.4M481.2 360.1V374.9M474.5 360.1h13.4M474.5 374.9h13.4M501.7 340.7V363.1M495 340.7h13.4M495 363.1h13.4M514.6 363.3V380.7M507.9 363.3h13.4M507.9 380.7h13.4M539.4 357.5V372.5M532.7 357.5h13.4M532.7 372.5h13.4M549.8 338.9V352.9M543.1 338.9h13.4M543.1 352.9h13.4M572 329V356.2M565.3 329h13.4M565.3 356.2h13.4M469 353.5V364M462.3 353.5h13.4M462.3 364h13.4M471.6 354.6V367.8M464.9 354.6h13.4M464.9 367.8h13.4M472.8 357.6V365.8M466.1 357.6h13.4M466.1 365.8h13.4M474 358.9V363.3M467.3 358.9h13.4M467.3 363.3h13.4M475.3 359.3V365.9M468.6 359.3h13.4M468.6 365.9h13.4M477.3 356.4V361.4M470.6 356.4h13.4M470.6 361.4h13.4M479.3 352.2V361.9M472.6 352.2h13.4M472.6 361.9h13.4M481.3 352.5V363M474.6 352.5h13.4M474.6 363h13.4M482.5 355V368M475.8 355h13.4M475.8 368h13.4M484.5 356.4V365.6M477.8 356.4h13.4M477.8 365.6h13.4M486.6 352.2V367.6M479.9 352.2h13.4M479.9 367.6h13.4M488.3 355.8V360.8M481.6 355.8h13.4M481.6 360.8h13.4M489.3 355.2V362.2M482.6 355.2h13.4M482.6 362.2h13.4M491.1 357V364.8M484.4 357h13.4M484.4 364.8h13.4M493.1 357.1V365.2M486.4 357.1h13.4M486.4 365.2h13.4M494.2 359.1V369.1M487.5 359.1h13.4M487.5 369.1h13.4M495.8 359.1V363.7M489.1 359.1h13.4M489.1 363.7h13.4M496.9 357V368.7M490.2 357h13.4M490.2 368.7h13.4M498.1 355V364M491.4 355h13.4M491.4 364h13.4M499.4 356.6V362.2M492.7 356.6h13.4M492.7 362.2h13.4M501.4 351.4V359.8M494.7 351.4h13.4M494.7 359.8h13.4M502.4 352.5V362.9M495.7 352.5h13.4M495.7 362.9h13.4M503.7 356.4V361.2M497 356.4h13.4M497 361.2h13.4M505.6 356.8V368.6M498.9 356.8h13.4M498.9 368.6h13.4M506.5 353.6V367.3M499.8 353.6h13.4M499.8 367.3h13.4M507.4 352.5V361.3M500.7 352.5h13.4M500.7 361.3h13.4M508.6 353V361.7M501.9 353h13.4M501.9 361.7h13.4M509.8 357V364.7M503.1 357h13.4M503.1 364.7h13.4M511.5 353.8V362.4M504.8 353.8h13.4M504.8 362.4h13.4M512.5 357.6V362M505.8 357.6h13.4M505.8 362h13.4M514.2 352.1V363.2M507.5 352.1h13.4M507.5 363.2h13.4M516.1 352.6V372.6M509.4 352.6h13.4M509.4 372.6h13.4M517.3 357.6V364M510.6 357.6h13.4M510.6 364h13.4M519.3 352.8V365M512.6 352.8h13.4M512.6 365h13.4M521.1 356.4V360.8M514.4 356.4h13.4M514.4 360.8h13.4M522.4 353.8V367.5M515.7 353.8h13.4M515.7 367.5h13.4M524.2 353.5V365.1M517.5 353.5h13.4M517.5 365.1h13.4M525.8 354.2V365.3M519.1 354.2h13.4M519.1 365.3h13.4M527 353.1V364.2M520.3 353.1h13.4M520.3 364.2h13.4M528.9 353.5V363.6M522.2 353.5h13.4M522.2 363.6h13.4M530.2 352.3V360.7M523.5 352.3h13.4M523.5 360.7h13.4M531.3 357.1V364.9M524.6 357.1h13.4M524.6 364.9h13.4M533.4 353.9V364.4M526.7 353.9h13.4M526.7 364.4h13.4M535.2 354.5V359.7M528.5 354.5h13.4M528.5 359.7h13.4M536.9 353.3V363.3M530.2 353.3h13.4M530.2 363.3h13.4M537.8 348.1V360.1M531.1 348.1h13.4M531.1 360.1h13.4M539.3 352.4V358.4M532.6 352.4h13.4M532.6 358.4h13.4M540.9 348.2V359.8M534.2 348.2h13.4M534.2 359.8h13.4M542.4 350.5V356.7M535.7 350.5h13.4M535.7 356.7h13.4M543.5 353.6V358M536.8 353.6h13.4M536.8 358h13.4M545.3 356V360.7M538.6 356h13.4M538.6 360.7h13.4M546.7 348.8V361.6M540 348.8h13.4M540 361.6h13.4M548.1 354.7V359.1M541.4 354.7h13.4M541.4 359.1h13.4M549.3 348.9V359.2M542.6 348.9h13.4M542.6 359.2h13.4M550.7 351.6V356M544 351.6h13.4M544 356h13.4M552.4 353.5V359M545.7 353.5h13.4M545.7 359h13.4M554.5 353.4V363M547.8 353.4h13.4M547.8 363h13.4M556.3 354.3V361.5M549.6 354.3h13.4M549.6 361.5h13.4M557.9 348.5V355.8M551.2 348.5h13.4M551.2 355.8h13.4M559.6 353.9V359M552.9 353.9h13.4M552.9 359h13.4M561.6 348.9V362.2M554.9 348.9h13.4M554.9 362.2h13.4M563.4 351V366.1M556.7 351h13.4M556.7 366.1h13.4M564.4 342.8V364.4M557.7 342.8h13.4M557.7 364.4h13.4M565.8 350V355.8M559.1 350h13.4M559.1 355.8h13.4M567 350.7V355.1M560.3 350.7h13.4M560.3 355.1h13.4M568.1 350.7V356.3M561.4 350.7h13.4M561.4 356.3h13.4M569.2 351V355.4M562.5 351h13.4M562.5 355.4h13.4M570.6 344.1V354.2M563.9 344.1h13.4M563.9 354.2h13.4M571.2 343.9V349.5M564.5 343.9h13.4M564.5 349.5h13.4M571.8 342.2V358.3M565.1 342.2h13.4M565.1 358.3h13.4M572.6 337.6V355M565.9 337.6h13.4M565.9 355h13.4M573.1 343.6V359M566.4 343.6h13.4M566.4 359h13.4M573.5 346.6V354.6M566.8 346.6h13.4M566.8 354.6h13.4M574 340.6V352.4M567.3 340.6h13.4M567.3 352.4h13.4M574.7 335.2V353.4M568 335.2h13.4M568 353.4h13.4M575.1 353.1V357.5M568.4 353.1h13.4M568.4 357.5h13.4M575.6 349V358.4M568.9 349h13.4M568.9 358.4h13.4M576.4 344.2V352.9M569.7 344.2h13.4M569.7 352.9h13.4M576.9 342V360.1M570.2 342h13.4M570.2 360.1h13.4M577.3 353V360.2M570.6 353h13.4M570.6 360.2h13.4M578.1 340.5V347.3M571.4 340.5h13.4M571.4 347.3h13.4M578.9 349.5V353.9M572.2 349.5h13.4M572.2 353.9h13.4M579.6 337.4V347.3M572.9 337.4h13.4M572.9 347.3h13.4M580.5 341.1V351.2M573.8 341.1h13.4M573.8 351.2h13.4M580.9 342.2V353.4M574.2 342.2h13.4M574.2 353.4h13.4M581.3 338.4V349.8M574.6 338.4h13.4M574.6 349.8h13.4M582.1 351.8V363.3M575.4 351.8h13.4M575.4 363.3h13.4M582.8 342.5V347.1M576.1 342.5h13.4M576.1 347.1h13.4M583.4 345.3V356.1M576.7 345.3h13.4M576.7 356.1h13.4M584.1 348.8V360.9M577.4 348.8h13.4M577.4 360.9h13.4M584.9 332.2V353.3M578.2 332.2h13.4M578.2 353.3h13.4M585.5 344.4V354.9M578.8 344.4h13.4M578.8 354.9h13.4M586.2 335V353M579.5 335h13.4M579.5 353h13.4M586.8 336.1V346.2M580.1 336.1h13.4M580.1 346.2h13.4M587.4 336.8V350.3M580.7 336.8h13.4M580.7 350.3h13.4M587.9 346.7V354.3M581.2 346.7h13.4M581.2 354.3h13.4M588.4 331V341.8M581.7 331h13.4M581.7 341.8h13.4M589.2 339.3V353.5M582.5 339.3h13.4M582.5 353.5h13.4M589.8 336.9V349.3M583.1 336.9h13.4M583.1 349.3h13.4M590.6 341.3V352.1M583.9 341.3h13.4M583.9 352.1h13.4M591 341.9V361.5M584.3 341.9h13.4M584.3 361.5h13.4M591.7 348.1V352.5M585 348.1h13.4M585 352.5h13.4M592.4 339.7V346.5M585.7 339.7h13.4M585.7 346.5h13.4M593.1 340.8V357.8M586.4 340.8h13.4M586.4 357.8h13.4M593.9 336.4V363.4M587.2 336.4h13.4M587.2 363.4h13.4M594.7 341.2V349.2M588 341.2h13.4M588 349.2h13.4M595.4 339.3V349.3M588.7 339.3h13.4M588.7 349.3h13.4M596 337.9V353M589.3 337.9h13.4M589.3 353h13.4M596.9 342.3V363M590.2 342.3h13.4M590.2 363h13.4M597.6 334.8V342M590.9 334.8h13.4M590.9 342h13.4M598 335.3V350M591.3 335.3h13.4M591.3 350h13.4M598.9 336.6V348.4M592.2 336.6h13.4M592.2 348.4h13.4M599.6 337.4V357.6M592.9 337.4h13.4M592.9 357.6h13.4M600.3 345.9V364.3M593.6 345.9h13.4M593.6 364.3h13.4M601.1 341.4V353.2M594.4 341.4h13.4M594.4 353.2h13.4M601.6 342.1V350.7M594.9 342.1h13.4M594.9 350.7h13.4M602.3 342.4V346.8M595.6 342.4h13.4M595.6 346.8h13.4M602.7 338.4V345.1M596 338.4h13.4M596 345.1h13.4M603.6 335.4V356.9M596.9 335.4h13.4M596.9 356.9h13.4M604 346.9V358.6M597.3 346.9h13.4M597.3 358.6h13.4M604.4 335V352.2M597.7 335h13.4M597.7 352.2h13.4M605.2 339V350.3M598.5 339h13.4M598.5 350.3h13.4M605.8 333.3V346.7M599.1 333.3h13.4M599.1 346.7h13.4M606.6 334.1V349.7M599.9 334.1h13.4M599.9 349.7h13.4M607.2 332.2V348M600.5 332.2h13.4M600.5 348h13.4M607.9 337.6V347.4M601.2 337.6h13.4M601.2 347.4h13.4M608.8 341.2V345.6M602.1 341.2h13.4M602.1 345.6h13.4M609.5 348.8V358.9M602.8 348.8h13.4M602.8 358.9h13.4M610 329.9V344.7M603.3 329.9h13.4M603.3 344.7h13.4M610.7 334.9V341M604 334.9h13.4M604 341h13.4M611.2 343.3V354.5M604.5 343.3h13.4M604.5 354.5h13.4M611.9 344.3V353.8M605.2 344.3h13.4M605.2 353.8h13.4M612.6 345.4V352.8M605.9 345.4h13.4M605.9 352.8h13.4M613.4 344.7V350.2M606.7 344.7h13.4M606.7 350.2h13.4M614 343V356.8M607.3 343h13.4M607.3 356.8h13.4M614.5 342.8V347.2M607.8 342.8h13.4M607.8 347.2h13.4M615.1 339.2V346.4M608.4 339.2h13.4M608.4 346.4h13.4M615.6 342.7V347.1M608.9 342.7h13.4M608.9 347.1h13.4M616 345.1V349.8M609.3 345.1h13.4M609.3 349.8h13.4M616.7 348.9V355.1M610 348.9h13.4M610 355.1h13.4M617.3 337.3V347.2M610.6 337.3h13.4M610.6 347.2h13.4M617.8 339.5V347.1M611.1 339.5h13.4M611.1 347.1h13.4M618.3 329.4V354.6M611.6 329.4h13.4M611.6 354.6h13.4M618.9 342V356.7M612.2 342h13.4M612.2 356.7h13.4M619.4 336.5V345.6M612.7 336.5h13.4M612.7 345.6h13.4M619.7 350.5V364.2M613 350.5h13.4M613 364.2h13.4M620.3 336V346M613.6 336h13.4M613.6 346h13.4M620.9 346.6V355.6M614.2 346.6h13.4M614.2 355.6h13.4M621.8 337.6V350M615.1 337.6h13.4M615.1 350h13.4M622.2 339V350.9M615.5 339h13.4M615.5 350.9h13.4M623 326.4V340.1M616.3 326.4h13.4M616.3 340.1h13.4M623.4 335.4V344.3M616.7 335.4h13.4M616.7 344.3h13.4M624.3 334.9V351.2M617.6 334.9h13.4M617.6 351.2h13.4M625.1 337.2V344.9M618.4 337.2h13.4M618.4 344.9h13.4M625.6 352.1V360.6M618.9 352.1h13.4M618.9 360.6h13.4M626 335.4V350.3M619.3 335.4h13.4M619.3 350.3h13.4M626.8 338.4V348.6M620.1 338.4h13.4M620.1 348.6h13.4M627.5 332.7V337.1M620.8 332.7h13.4M620.8 337.1h13.4M628 340.7V345.1M621.3 340.7h13.4M621.3 345.1h13.4M628.5 332.5V340M621.8 332.5h13.4M621.8 340h13.4M629 335.6V348.9M622.3 335.6h13.4M622.3 348.9h13.4M629.5 335.7V349.1M622.8 335.7h13.4M622.8 349.1h13.4M629.9 331.9V351.2M623.2 331.9h13.4M623.2 351.2h13.4M630.3 346.2V354.1M623.6 346.2h13.4M623.6 354.1h13.4M630.8 334.2V346M624.1 334.2h13.4M624.1 346h13.4M631.6 334.5V342.5M624.9 334.5h13.4M624.9 342.5h13.4M632.4 329.5V341.5M625.7 329.5h13.4M625.7 341.5h13.4M632.8 341.4V354.8M626.1 341.4h13.4M626.1 354.8h13.4M633.3 339.4V348.3M626.6 339.4h13.4M626.6 348.3h13.4M633.7 330.9V349.7M627 330.9h13.4M627 349.7h13.4M634.2 331.7V343.1M627.5 331.7h13.4M627.5 343.1h13.4M634.6 337.2V348.2M627.9 337.2h13.4M627.9 348.2h13.4M635.3 334.5V350.1M628.6 334.5h13.4M628.6 350.1h13.4M635.8 334.8V349.6M629.1 334.8h13.4M629.1 349.6h13.4M636.7 337.4V347.7M630 337.4h13.4M630 347.7h13.4M637.5 340.5V354M630.8 340.5h13.4M630.8 354h13.4M638.4 342.4V354.4M631.7 342.4h13.4M631.7 354.4h13.4M638.8 343.1V354.4M632.1 343.1h13.4M632.1 354.4h13.4M639.3 324.1V338.8M632.6 324.1h13.4M632.6 338.8h13.4M639.9 335.5V348.6M633.2 335.5h13.4M633.2 348.6h13.4M640.6 334.4V347.1M633.9 334.4h13.4M633.9 347.1h13.4M641.3 330.9V342.2M634.6 330.9h13.4M634.6 342.2h13.4M642 335.7V340.1M635.3 335.7h13.4M635.3 340.1h13.4M642.5 339.6V353.4M635.8 339.6h13.4M635.8 353.4h13.4M643.2 340.6V354.2M636.5 340.6h13.4M636.5 354.2h13.4M644 334.6V351.7M637.3 334.6h13.4M637.3 351.7h13.4M644.6 337.6V346.5M637.9 337.6h13.4M637.9 346.5h13.4M645.4 331.3V344.3M638.7 331.3h13.4M638.7 344.3h13.4M646 337.3V349M639.3 337.3h13.4M639.3 349h13.4M648 335V351.4M641.3 335h13.4M641.3 351.4h13.4M650.4 329.1V347M643.7 329.1h13.4M643.7 347h13.4M652.7 338.6V353.5M646 338.6h13.4M646 353.5h13.4M654.6 331.1V342.3M647.9 331.1h13.4M647.9 342.3h13.4M655.8 336.8V347.8M649.1 336.8h13.4M649.1 347.8h13.4M657.1 324.5V355.5M650.4 324.5h13.4M650.4 355.5h13.4M659.3 333.7V346.1M652.6 333.7h13.4M652.6 346.1h13.4M661.3 329.5V340.1M654.6 329.5h13.4M654.6 340.1h13.4M663.7 333.7V344M657 333.7h13.4M657 344h13.4M665.6 330.6V342.2M658.9 330.6h13.4M658.9 342.2h13.4M667.4 333.2V349.2M660.7 333.2h13.4M660.7 349.2h13.4M668.8 329.7V338.1M662.1 329.7h13.4M662.1 338.1h13.4M671.2 335.8V345.8M664.5 335.8h13.4M664.5 345.8h13.4M673.6 329.3V340.2M666.9 329.3h13.4M666.9 340.2h13.4M675.9 329V343.4M669.2 329h13.4M669.2 343.4h13.4M677.7 337.2V347.9M671 337.2h13.4M671 347.9h13.4M680.1 332.3V342.7M673.4 332.3h13.4M673.4 342.7h13.4M682.7 333.5V343.8M676 333.5h13.4M676 343.8h13.4M684.8 326.1V341.7M678.1 326.1h13.4M678.1 341.7h13.4M686.6 329.7V341.3M679.9 329.7h13.4M679.9 341.3h13.4M689.2 334.8V339.2M682.5 334.8h13.4M682.5 339.2h13.4M691.5 334.6V345.8M684.8 334.6h13.4M684.8 345.8h13.4M693.1 330.1V338.5M686.4 330.1h13.4M686.4 338.5h13.4M695.6 328.7V338M688.9 328.7h13.4M688.9 338h13.4M697.4 331.5V342M690.7 331.5h13.4M690.7 342h13.4M699.6 328.6V344.2M692.9 328.6h13.4M692.9 344.2h13.4M701.5 324V340.5M694.8 324h13.4M694.8 340.5h13.4M702.8 326.6V339.8M696.1 326.6h13.4M696.1 339.8h13.4M704.6 323.4V338.2M697.9 323.4h13.4M697.9 338.2h13.4M706.6 329.4V335.9M699.9 329.4h13.4M699.9 335.9h13.4M708.7 321.9V340.1M702 321.9h13.4M702 340.1h13.4M710.7 321.9V330.3M704 321.9h13.4M704 330.3h13.4M712.2 320.2V336.9M705.5 320.2h13.4M705.5 336.9h13.4M714.2 323.7V335.6M707.5 323.7h13.4M707.5 335.6h13.4M715.7 318V327.8M709 318h13.4M709 327.8h13.4M718.4 313.9V332.8M711.7 313.9h13.4M711.7 332.8h13.4M719.6 322.3V330.5M712.9 322.3h13.4M712.9 330.5h13.4"/></g>
<path fill="#008b00" stroke="#008b00" stroke-width="0.6" d="M231.9 369h5.2v5.2h-5.2zM270.6 358.6h5.2v5.2h-5.2zM283.9 365.7h5.2v5.2h-5.2zM288.9 446.4h5.2v5.2h-5.2zM322.1 365.3h5.2v5.2h-5.2zM327.7 357.4h5.2v5.2h-5.2zM341 365.1h5.2v5.2h-5.2zM346 340.3h5.2v5.2h-5.2zM361.1 366.8h5.2v5.2h-5.2zM365.4 355.4h5.2v5.2h-5.2zM374.2 366.8h5.2v5.2h-5.2zM379.4 365.6h5.2v5.2h-5.2zM384.9 355.4h5.2v5.2h-5.2zM392.4 362h5.2v5.2h-5.2zM397.9 367.5h5.2v5.2h-5.2zM403.2 360.8h5.2v5.2h-5.2zM412.7 373.9h5.2v5.2h-5.2zM418.1 356.1h5.2v5.2h-5.2zM429.3 354.9h5.2v5.2h-5.2zM435.9 356.1h5.2v5.2h-5.2zM441.9 366.8h5.2v5.2h-5.2zM449 368h5.2v5.2h-5.2zM454.9 370.8h5.2v5.2h-5.2zM460.1 365.6h5.2v5.2h-5.2zM464.9 367.5h5.2v5.2h-5.2zM492.9 372.7h5.2v5.2h-5.2zM493.7 372.4h5.2v5.2h-5.2zM506.2 342h5.2v5.2h-5.2zM516 348.8h5.2v5.2h-5.2zM550.7 377.9h5.2v5.2h-5.2zM556.1 336.9h5.2v5.2h-5.2zM573.9 301.9h5.2v5.2h-5.2zM594 368.1h5.2v5.2h-5.2zM600.6 317.6h5.2v5.2h-5.2zM607.1 369h5.2v5.2h-5.2zM612.4 369h5.2v5.2h-5.2zM708 365.1h5.2v5.2h-5.2zM684.5 354.7h5.2v5.2h-5.2zM665.6 347.3h5.2v5.2h-5.2zM651 345.9h5.2v5.2h-5.2zM691.4 347.8h5.2v5.2h-5.2zM669.4 333.4h5.2v5.2h-5.2zM620.2 362.4h5.2v5.2h-5.2zM625.6 359.4h5.2v5.2h-5.2zM674.4 327.4h5.2v5.2h-5.2zM715.4 321.4h5.2v5.2h-5.2zM478.6 364.9h5.2v5.2h-5.2zM499.1 349.3h5.2v5.2h-5.2zM512 369.4h5.2v5.2h-5.2zM536.8 362.4h5.2v5.2h-5.2zM547.2 343.3h5.2v5.2h-5.2zM569.4 340h5.2v5.2h-5.2zM466.4 356.1h5.2v5.2h-5.2zM469 358.6h5.2v5.2h-5.2zM470.2 359.1h5.2v5.2h-5.2zM471.4 358.5h5.2v5.2h-5.2zM472.7 360h5.2v5.2h-5.2zM474.7 356.3h5.2v5.2h-5.2zM476.7 354.4h5.2v5.2h-5.2zM478.7 355.2h5.2v5.2h-5.2zM479.9 358.9h5.2v5.2h-5.2zM481.9 358.4h5.2v5.2h-5.2zM484 357.3h5.2v5.2h-5.2zM485.7 355.7h5.2v5.2h-5.2zM486.7 356.1h5.2v5.2h-5.2zM488.5 358.3h5.2v5.2h-5.2zM490.5 358.5h5.2v5.2h-5.2zM491.6 361.5h5.2v5.2h-5.2zM493.2 358.8h5.2v5.2h-5.2zM494.3 360.2h5.2v5.2h-5.2zM495.5 356.9h5.2v5.2h-5.2zM496.8 356.8h5.2v5.2h-5.2zM498.8 353h5.2v5.2h-5.2zM499.8 355.1h5.2v5.2h-5.2zM501.1 356.2h5.2v5.2h-5.2zM503 360.1h5.2v5.2h-5.2zM503.9 357.8h5.2v5.2h-5.2zM504.8 354.3h5.2v5.2h-5.2zM506 354.7h5.2v5.2h-5.2zM507.2 358.2h5.2v5.2h-5.2zM508.9 355.5h5.2v5.2h-5.2zM509.9 357.2h5.2v5.2h-5.2zM511.6 355h5.2v5.2h-5.2zM513.5 360h5.2v5.2h-5.2zM514.7 358.2h5.2v5.2h-5.2zM516.7 356.3h5.2v5.2h-5.2zM518.5 356h5.2v5.2h-5.2zM519.8 358.1h5.2v5.2h-5.2zM521.6 356.7h5.2v5.2h-5.2zM523.2 357.2h5.2v5.2h-5.2zM524.4 356h5.2v5.2h-5.2zM526.3 355.9h5.2v5.2h-5.2zM527.6 353.9h5.2v5.2h-5.2zM528.7 358.4h5.2v5.2h-5.2zM530.8 356.5h5.2v5.2h-5.2zM532.6 354.5h5.2v5.2h-5.2zM534.3 355.7h5.2v5.2h-5.2zM535.2 351.5h5.2v5.2h-5.2zM536.7 352.8h5.2v5.2h-5.2zM538.3 351.4h5.2v5.2h-5.2zM539.8 351h5.2v5.2h-5.2zM540.9 353.2h5.2v5.2h-5.2zM542.7 355.8h5.2v5.2h-5.2zM544.1 352.6h5.2v5.2h-5.2zM545.5 354.3h5.2v5.2h-5.2zM546.7 351.5h5.2v5.2h-5.2zM548.1 351.2h5.2v5.2h-5.2zM549.8 353.6h5.2v5.2h-5.2zM551.9 355.6h5.2v5.2h-5.2zM553.7 355.3h5.2v5.2h-5.2zM555.3 349.6h5.2v5.2h-5.2zM557 353.9h5.2v5.2h-5.2zM559 352.9h5.2v5.2h-5.2zM560.8 356h5.2v5.2h-5.2zM561.8 351h5.2v5.2h-5.2zM563.2 350.3h5.2v5.2h-5.2zM564.4 350.3h5.2v5.2h-5.2zM565.5 350.9h5.2v5.2h-5.2zM566.6 350.6h5.2v5.2h-5.2zM568 346.6h5.2v5.2h-5.2zM568.6 344.1h5.2v5.2h-5.2zM569.2 347.6h5.2v5.2h-5.2zM570 343.7h5.2v5.2h-5.2zM570.5 348.7h5.2v5.2h-5.2zM570.9 348h5.2v5.2h-5.2zM571.4 343.9h5.2v5.2h-5.2zM572.1 341.7h5.2v5.2h-5.2zM572.5 352.7h5.2v5.2h-5.2zM573 351.1h5.2v5.2h-5.2zM573.8 345.9h5.2v5.2h-5.2zM574.3 348.5h5.2v5.2h-5.2zM574.7 354h5.2v5.2h-5.2zM575.5 341.3h5.2v5.2h-5.2zM576.3 349.1h5.2v5.2h-5.2zM577 339.8h5.2v5.2h-5.2zM577.9 343.5h5.2v5.2h-5.2zM578.3 345.2h5.2v5.2h-5.2zM578.7 341.5h5.2v5.2h-5.2zM579.5 355h5.2v5.2h-5.2zM580.2 342.2h5.2v5.2h-5.2zM580.8 348.1h5.2v5.2h-5.2zM581.5 352.3h5.2v5.2h-5.2zM582.3 340.2h5.2v5.2h-5.2zM582.9 347.1h5.2v5.2h-5.2zM583.6 341.4h5.2v5.2h-5.2zM584.2 338.5h5.2v5.2h-5.2zM584.8 340.9h5.2v5.2h-5.2zM585.3 347.9h5.2v5.2h-5.2zM585.8 333.8h5.2v5.2h-5.2zM586.6 343.8h5.2v5.2h-5.2zM587.2 340.5h5.2v5.2h-5.2zM588 344.1h5.2v5.2h-5.2zM588.4 349.1h5.2v5.2h-5.2zM589.1 347.7h5.2v5.2h-5.2zM589.8 340.5h5.2v5.2h-5.2zM590.5 346.7h5.2v5.2h-5.2zM591.3 347.3h5.2v5.2h-5.2zM592.1 342.6h5.2v5.2h-5.2zM592.8 341.7h5.2v5.2h-5.2zM593.4 342.8h5.2v5.2h-5.2zM594.3 350h5.2v5.2h-5.2zM595 335.8h5.2v5.2h-5.2zM595.4 340.1h5.2v5.2h-5.2zM596.3 339.9h5.2v5.2h-5.2zM597 344.9h5.2v5.2h-5.2zM597.7 352.5h5.2v5.2h-5.2zM598.5 344.7h5.2v5.2h-5.2zM599 343.8h5.2v5.2h-5.2zM599.7 342h5.2v5.2h-5.2zM600.1 339.1h5.2v5.2h-5.2zM601 343.5h5.2v5.2h-5.2zM601.4 350.1h5.2v5.2h-5.2zM601.8 341h5.2v5.2h-5.2zM602.6 342.1h5.2v5.2h-5.2zM603.2 337.4h5.2v5.2h-5.2zM604 339.3h5.2v5.2h-5.2zM604.6 337.5h5.2v5.2h-5.2zM605.3 339.9h5.2v5.2h-5.2zM606.2 340.8h5.2v5.2h-5.2zM606.9 351.3h5.2v5.2h-5.2zM607.4 334.7h5.2v5.2h-5.2zM608.1 335.4h5.2v5.2h-5.2zM608.6 346.3h5.2v5.2h-5.2zM609.3 346.5h5.2v5.2h-5.2zM610 346.5h5.2v5.2h-5.2zM610.8 344.9h5.2v5.2h-5.2zM611.4 347.3h5.2v5.2h-5.2zM611.9 342.4h5.2v5.2h-5.2zM612.5 340.2h5.2v5.2h-5.2zM613 342.3h5.2v5.2h-5.2zM613.4 344.8h5.2v5.2h-5.2zM614.1 349.4h5.2v5.2h-5.2zM614.7 339.6h5.2v5.2h-5.2zM615.2 340.7h5.2v5.2h-5.2zM615.7 339.4h5.2v5.2h-5.2zM616.3 346.7h5.2v5.2h-5.2zM616.8 338.4h5.2v5.2h-5.2zM617.1 354.8h5.2v5.2h-5.2zM617.7 338.4h5.2v5.2h-5.2zM618.3 348.5h5.2v5.2h-5.2zM619.2 341.2h5.2v5.2h-5.2zM619.6 342.4h5.2v5.2h-5.2zM620.4 330.7h5.2v5.2h-5.2zM620.8 337.3h5.2v5.2h-5.2zM621.7 340.5h5.2v5.2h-5.2zM622.5 338.4h5.2v5.2h-5.2zM623 353.8h5.2v5.2h-5.2zM623.4 340.2h5.2v5.2h-5.2zM624.2 340.9h5.2v5.2h-5.2zM624.9 332.3h5.2v5.2h-5.2zM625.4 340.3h5.2v5.2h-5.2zM625.9 333.6h5.2v5.2h-5.2zM626.4 339.6h5.2v5.2h-5.2zM626.9 339.8h5.2v5.2h-5.2zM627.3 339h5.2v5.2h-5.2zM627.7 347.6h5.2v5.2h-5.2zM628.2 337.5h5.2v5.2h-5.2zM629 335.9h5.2v5.2h-5.2zM629.8 332.9h5.2v5.2h-5.2zM630.2 345.5h5.2v5.2h-5.2zM630.7 341.3h5.2v5.2h-5.2zM631.1 337.7h5.2v5.2h-5.2zM631.6 334.8h5.2v5.2h-5.2zM632 340.1h5.2v5.2h-5.2zM632.7 339.7h5.2v5.2h-5.2zM633.2 339.6h5.2v5.2h-5.2zM634.1 339.9h5.2v5.2h-5.2zM634.9 344.6h5.2v5.2h-5.2zM635.8 345.8h5.2v5.2h-5.2zM636.2 346.1h5.2v5.2h-5.2zM636.7 328.8h5.2v5.2h-5.2zM637.3 339.5h5.2v5.2h-5.2zM638 338.2h5.2v5.2h-5.2zM638.7 334h5.2v5.2h-5.2zM639.4 335.3h5.2v5.2h-5.2zM639.9 343.9h5.2v5.2h-5.2zM640.6 344.8h5.2v5.2h-5.2zM641.4 340.5h5.2v5.2h-5.2zM642 339.5h5.2v5.2h-5.2zM642.8 335.2h5.2v5.2h-5.2zM643.4 340.5h5.2v5.2h-5.2zM645.4 340.6h5.2v5.2h-5.2zM647.8 335.4h5.2v5.2h-5.2zM650.1 343.4h5.2v5.2h-5.2zM652 334.1h5.2v5.2h-5.2zM653.2 339.7h5.2v5.2h-5.2zM654.5 337.4h5.2v5.2h-5.2zM656.7 337.3h5.2v5.2h-5.2zM658.7 332.2h5.2v5.2h-5.2zM661.1 336.3h5.2v5.2h-5.2zM663 333.8h5.2v5.2h-5.2zM664.8 338.6h5.2v5.2h-5.2zM666.2 331.3h5.2v5.2h-5.2zM668.6 338.2h5.2v5.2h-5.2zM671 332.1h5.2v5.2h-5.2zM673.3 333.6h5.2v5.2h-5.2zM675.1 340h5.2v5.2h-5.2zM677.5 334.9h5.2v5.2h-5.2zM680.1 336.1h5.2v5.2h-5.2zM682.2 331.3h5.2v5.2h-5.2zM684 332.9h5.2v5.2h-5.2zM686.6 334.4h5.2v5.2h-5.2zM688.9 337.6h5.2v5.2h-5.2zM690.5 331.7h5.2v5.2h-5.2zM693 330.8h5.2v5.2h-5.2zM694.8 334.1h5.2v5.2h-5.2zM697 333.8h5.2v5.2h-5.2zM698.9 329.7h5.2v5.2h-5.2zM700.2 330.6h5.2v5.2h-5.2zM702 328.2h5.2v5.2h-5.2zM704 330.1h5.2v5.2h-5.2zM706.1 328.4h5.2v5.2h-5.2zM708.1 323.5h5.2v5.2h-5.2zM709.6 325.9h5.2v5.2h-5.2zM711.6 327.1h5.2v5.2h-5.2zM713.1 320.3h5.2v5.2h-5.2zM715.8 320.8h5.2v5.2h-5.2zM717 323.8h5.2v5.2h-5.2z"/>
<!-- fit lines -->
<line x1="101.2" y1="364.4" x2="661" y2="364.4" stroke="#0000ff" stroke-width="2.6"/>
<!-- frame + ticks -->
<rect x="101.15" y="101.05" width="674" height="471.5" fill="none" stroke="#000" stroke-width="1.4"/>
<path d="M131.2 572.5v-6.8M131.2 101v6.8M156.5 572.5v-6.8M156.5 101v6.8M178.5 572.5v-6.8M178.5 101v6.8M197.9 572.5v-6.8M197.9 101v6.8M215.3 572.5v-13.4M215.3 101v13.4M329.4 572.5v-6.8M329.4 101v6.8M396.1 572.5v-6.8M396.1 101v6.8M443.5 572.5v-6.8M443.5 101v6.8M480.2 572.5v-6.8M480.2 101v6.8M510.2 572.5v-6.8M510.2 101v6.8M535.6 572.5v-6.8M535.6 101v6.8M557.6 572.5v-6.8M557.6 101v6.8M577 572.5v-6.8M577 101v6.8M594.3 572.5v-13.4M594.3 101v13.4M708.4 572.5v-6.8M708.4 101v6.8M101.2 551.6h6.8M775.1 551.6h-6.8M101.2 530.6h6.8M775.1 530.6h-6.8M101.2 509.7h6.8M775.1 509.7h-6.8M101.2 488.7h6.8M775.1 488.7h-6.8M101.2 467.8h13.4M775.1 467.8h-13.4M101.2 446.8h6.8M775.1 446.8h-6.8M101.2 425.9h6.8M775.1 425.9h-6.8M101.2 404.9h6.8M775.1 404.9h-6.8M101.2 383.9h6.8M775.1 383.9h-6.8M101.2 363h13.4M775.1 363h-13.4M101.2 342h6.8M775.1 342h-6.8M101.2 321.1h6.8M775.1 321.1h-6.8M101.2 300.1h6.8M775.1 300.1h-6.8M101.2 279.2h6.8M775.1 279.2h-6.8M101.2 258.2h13.4M775.1 258.2h-13.4M101.2 237.3h6.8M775.1 237.3h-6.8M101.2 216.3h6.8M775.1 216.3h-6.8M101.2 195.3h6.8M775.1 195.3h-6.8M101.2 174.4h6.8M775.1 174.4h-6.8M101.2 153.4h13.4M775.1 153.4h-13.4M101.2 132.5h6.8M775.1 132.5h-6.8M101.2 111.5h6.8M775.1 111.5h-6.8" stroke="#000" stroke-width="1.25" fill="none"/>
<g id="txt">
<g font-size="18.4px"><text x="95.6" y="159.5" text-anchor="end">1</text><text x="95.6" y="264.3" text-anchor="end">0.5</text><text x="95.6" y="369.1" text-anchor="end">0</text><text x="95.6" y="473.9" text-anchor="end">-0.5</text><text x="95.6" y="578.6" text-anchor="end">-1</text><text x="215.3" y="592.6" text-anchor="middle">0.1</text><text x="594.3" y="592.6" text-anchor="middle">1</text></g>
<!-- x axis label -->
<text x="439.4" y="620.6" font-size="30.2px" text-anchor="middle">s [GeV]</text>
<!-- y axis label -->
<g transform="translate(45,379.2) rotate(-90)">
<text x="0" y="0" font-size="30.2px" transform="scale(1.13,1)">&#915;</text>
<rect x="0.2" y="-26" width="17.8" height="1.8" fill="#000"/>
<text x="14.9" y="11.2" font-size="18.6px">1, 2</text>
<text x="23.1" y="-26.6" font-size="19.4px">sym</text>
<text x="46" y="0" font-size="30.2px">(s</text>
<text x="65.2" y="-17.8" font-size="19.4px">2</text>
<text x="73.6" y="0" font-size="30.2px">)</text>
</g>
</g>
<!-- legend -->
<rect x="134.3" y="134.3" width="100.5" height="83.4" fill="#fff" stroke="#000" stroke-width="1.1"/>
<circle cx="155.1" cy="157.2" r="3.5" fill="#ffa500" stroke="#ffa500" stroke-width="0.6"/>
<rect x="152.4" y="192.6" width="5.2" height="5.2" fill="#008b00" stroke="#008b00" stroke-width="0.6"/>
<g opacity="0.999">
<text x="0" y="0" font-size="21.8px" transform="translate(182.4,162.4) scale(1.13,1)">&#915;</text>
<rect x="182.5" y="141.9" width="13.4" height="1.3" fill="#000"/>
<text x="200.2" y="148.7" font-size="16px">sym</text>
<text x="196.8" y="172.5" font-size="15.6px">1</text>
<text x="0" y="0" font-size="21.8px" transform="translate(182.4,200.9) scale(1.13,1)">&#915;</text>
<rect x="182.5" y="180" width="13.4" height="1.3" fill="#000"/>
<text x="200.2" y="186.8" font-size="16px">sym</text>
<text x="196.4" y="210.7" font-size="15.6px">2</text>
</g>
</svg>
</body></html>
